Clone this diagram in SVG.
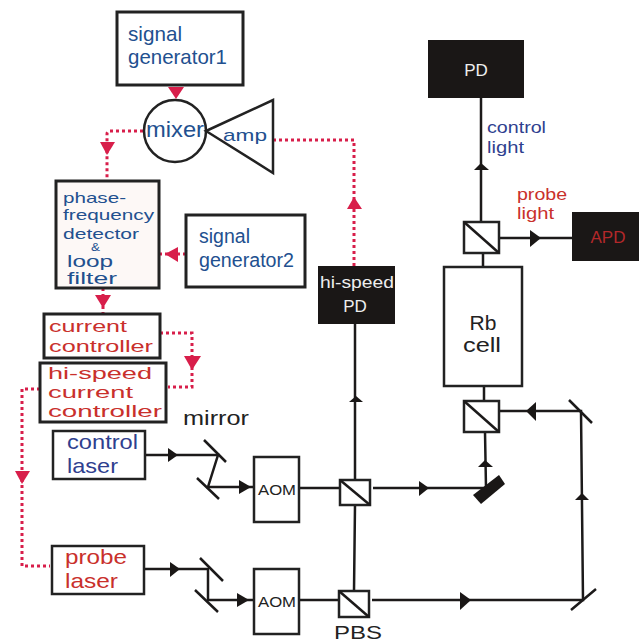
<svg xmlns="http://www.w3.org/2000/svg" width="639" height="643" viewBox="0 0 639 643">
<style>
text{font-family:"Liberation Sans",Arial,sans-serif}
.box{fill:#fff;stroke:#222;stroke-width:3}
.thin{fill:#fff;stroke:#222;stroke-width:2.5}
.blk{fill:#1a1716;stroke:none}
.beam{fill:none;stroke:#1c1a1a;stroke-width:2.5}
.mir{fill:none;stroke:#1c1a1a;stroke-width:2.5}
.dot{fill:none;stroke:#d81e4a;stroke-width:3;stroke-dasharray:3 3}
.ra{fill:#d81e4a}
.ba{fill:#1a1716}
.b{fill:#22508f}
.r{fill:#c9302c}
.n{fill:#222}
.w{fill:#eee}
</style>
<rect width="639" height="643" fill="#fff"/>
<g id="connectors">
<path class="dot" d="M143 131H110Q107 131 107 134V178"/>
<path class="dot" d="M159 254H186"/>
<path class="dot" d="M103 288V314"/>
<path class="dot" d="M160 333H192V387H168"/>
<path class="dot" d="M40 389H22V566H50"/>
<path class="dot" d="M273 140H354V266"/>
<polygon class="ra" points="168,87 184,87 176,99"/>
<polygon class="ra" points="100,142 115,142 107,155"/>
<polygon class="ra" points="165,254 178,247 178,262"/>
<polygon class="ra" points="95,295 111,295 103,308"/>
<polygon class="ra" points="184,356 201,356 192,370"/>
<polygon class="ra" points="15,471 30,471 22,484"/>
<polygon class="ra" points="347,209 362,209 354,197"/>
<path class="beam" d="M146 455H218L208 487H253"/>
<path class="beam" d="M145 569H208V600H253"/>
<path class="beam" d="M299 488H340M299 600H339"/>
<path class="beam" d="M355 324V480M355 505L354 591"/>
<path class="beam" d="M373 488H486L485 432"/>
<path class="beam" d="M484 386V401M483 253V267"/>
<path class="beam" d="M499 411H581L583 600H372"/>
<path class="beam" d="M481 98V222M499 238H572"/>
<polygon class="ba" points="168,448 168,462 178,455"/>
<polygon class="ba" points="239,480 239,494 251,487"/>
<polygon class="ba" points="170,562 170,577 180,569"/>
<polygon class="ba" points="237,593 237,607 249,600"/>
<polygon class="ba" points="349,402 363,402 356,396"/>
<polygon class="ba" points="419,481 419,496 429,488"/>
<polygon class="ba" points="478,467 493,467 485,460"/>
<polygon class="ba" points="536,402 536,421 526,411"/>
<polygon class="ba" points="575,500 589,500 582,493"/>
<polygon class="ba" points="460,592 460,610 471,600"/>
<polygon class="ba" points="474,170 489,170 481,163"/>
<polygon class="ba" points="530,230 530,247 541,238"/>
</g>
<g id="signal-generator1"><rect class="box" x="117" y="12" width="126" height="73"/>
<text class="b" x="128" y="41" font-size="21" textLength="54" lengthAdjust="spacingAndGlyphs">signal</text>
<text class="b" x="128" y="64" font-size="21" textLength="99" lengthAdjust="spacingAndGlyphs">generator1</text></g>
<g id="mixer"><circle cx="175" cy="131" r="31" fill="none" stroke="#222" stroke-width="2.5"/>
<text class="b" x="146" y="137" font-size="22" textLength="58" lengthAdjust="spacingAndGlyphs">mixer</text></g>
<g id="amp"><polygon points="206,131 273,100 273,173" fill="none" stroke="#222" stroke-width="2.5"/>
<text class="b" x="223" y="141" font-size="17" textLength="44" lengthAdjust="spacingAndGlyphs">amp</text></g>
<g id="phase-frequency-detector"><rect class="box" style="fill:#fdf8f6" x="56" y="181" width="103" height="107"/>
<text class="b" x="63" y="203" font-size="15" textLength="63" lengthAdjust="spacingAndGlyphs">phase-</text>
<text class="b" x="63" y="220" font-size="15" textLength="91" lengthAdjust="spacingAndGlyphs">frequency</text>
<text class="b" x="63" y="239" font-size="15" textLength="76" lengthAdjust="spacingAndGlyphs">detector</text>
<text class="b" x="91" y="251" font-size="10" textLength="9" lengthAdjust="spacingAndGlyphs">&amp;</text>
<text class="b" x="67" y="267" font-size="16" textLength="46" lengthAdjust="spacingAndGlyphs">loop</text>
<text class="b" x="67" y="284" font-size="16" textLength="50" lengthAdjust="spacingAndGlyphs">filter</text></g>
<g id="signal-generator2"><rect class="box" x="186" y="215" width="119" height="72"/>
<text class="b" x="199" y="243" font-size="20" textLength="51" lengthAdjust="spacingAndGlyphs">signal</text>
<text class="b" x="199" y="267" font-size="20" textLength="95" lengthAdjust="spacingAndGlyphs">generator2</text></g>
<g id="current-controller"><rect class="box" x="44" y="314" width="116" height="44"/>
<text class="r" x="49" y="332" font-size="17" textLength="78" lengthAdjust="spacingAndGlyphs">current</text>
<text class="r" x="49" y="352" font-size="17" textLength="104" lengthAdjust="spacingAndGlyphs">controller</text></g>
<g id="hi-speed-current-controller"><rect class="box" x="40" y="363" width="126" height="59"/>
<text class="r" x="48" y="379" font-size="17" textLength="104" lengthAdjust="spacingAndGlyphs">hi-speed</text>
<text class="r" x="48" y="398" font-size="17" textLength="85" lengthAdjust="spacingAndGlyphs">current</text>
<text class="r" x="48" y="417" font-size="17" textLength="114" lengthAdjust="spacingAndGlyphs">controller</text></g>
<g id="control-laser"><rect class="thin" x="53" y="431" width="92" height="48"/>
<text x="67" y="449" font-size="21" fill="#2f3f8f" textLength="71" lengthAdjust="spacingAndGlyphs">control</text>
<text x="67" y="473" font-size="21" fill="#2f3f8f" textLength="51" lengthAdjust="spacingAndGlyphs">laser</text></g>
<g id="probe-laser"><rect class="thin" x="52" y="546" width="92" height="48"/>
<text class="r" x="65" y="564" font-size="21" textLength="62" lengthAdjust="spacingAndGlyphs">probe</text>
<text class="r" x="65" y="588" font-size="21" textLength="53" lengthAdjust="spacingAndGlyphs">laser</text></g>
<g id="mirror-label"><text class="n" x="183" y="425" font-size="21" textLength="66" lengthAdjust="spacingAndGlyphs">mirror</text></g>
<g id="mirrors">
<path class="mir" d="M204 440L226 462M197 478L219 499M200 558L223 581M195 590L218 612M569 400L592 423M571 610L596 589"/>
<polygon class="ba" points="473,495 499,475 505,484 481,504"/>
</g>
<g id="aom1"><rect class="thin" x="254" y="457" width="45" height="65"/>
<text class="n" x="258" y="495" font-size="15" textLength="38" lengthAdjust="spacingAndGlyphs">AOM</text></g>
<g id="aom2"><rect class="thin" x="254" y="569" width="45" height="65"/>
<text class="n" x="258" y="607" font-size="15" textLength="38" lengthAdjust="spacingAndGlyphs">AOM</text></g>
<g id="pbs1"><rect class="thin" x="340" y="480" width="30" height="25"/><path class="beam" d="M340 480L370 505"/></g>
<g id="pbs2"><rect class="thin" x="339" y="591" width="30" height="26"/><path class="beam" d="M339 591L369 617"/>
<text class="n" x="334" y="639" font-size="19" textLength="48" lengthAdjust="spacingAndGlyphs">PBS</text></g>
<g id="hi-speed-pd"><rect class="blk" x="318" y="266" width="77" height="58"/>
<text class="w" x="320" y="288" font-size="17" textLength="74" lengthAdjust="spacingAndGlyphs">hi-speed</text>
<text class="w" x="355" y="312" font-size="17" text-anchor="middle">PD</text></g>
<g id="rb-cell"><rect class="thin" x="444" y="267" width="78" height="119"/>
<text class="n" x="483" y="330" font-size="21" text-anchor="middle">Rb</text>
<text class="n" x="463" y="352" font-size="21" textLength="38" lengthAdjust="spacingAndGlyphs">cell</text></g>
<g id="cube-lower"><rect class="thin" x="464" y="401" width="35" height="31"/><path class="beam" d="M464 401L499 432"/></g>
<g id="cube-upper"><rect class="thin" x="464" y="222" width="35" height="31"/><path class="beam" d="M464 222L499 253"/></g>
<g id="pd"><rect class="blk" x="428" y="40" width="96" height="58"/>
<text class="w" x="476" y="76" font-size="17" text-anchor="middle">PD</text></g>
<g id="apd"><rect class="blk" x="572" y="212" width="67" height="49"/>
<text x="608" y="243" font-size="17" fill="#b3282a" text-anchor="middle">APD</text></g>
<g id="control-light"><text x="487" y="133" font-size="16" fill="#2f3f8f" textLength="59" lengthAdjust="spacingAndGlyphs">control</text>
<text x="487" y="153" font-size="16" fill="#2f3f8f" textLength="37" lengthAdjust="spacingAndGlyphs">light</text></g>
<g id="probe-light"><text class="r" x="517" y="200" font-size="16" textLength="50" lengthAdjust="spacingAndGlyphs">probe</text>
<text class="r" x="517" y="219" font-size="16" textLength="37" lengthAdjust="spacingAndGlyphs">light</text></g>
</svg>
